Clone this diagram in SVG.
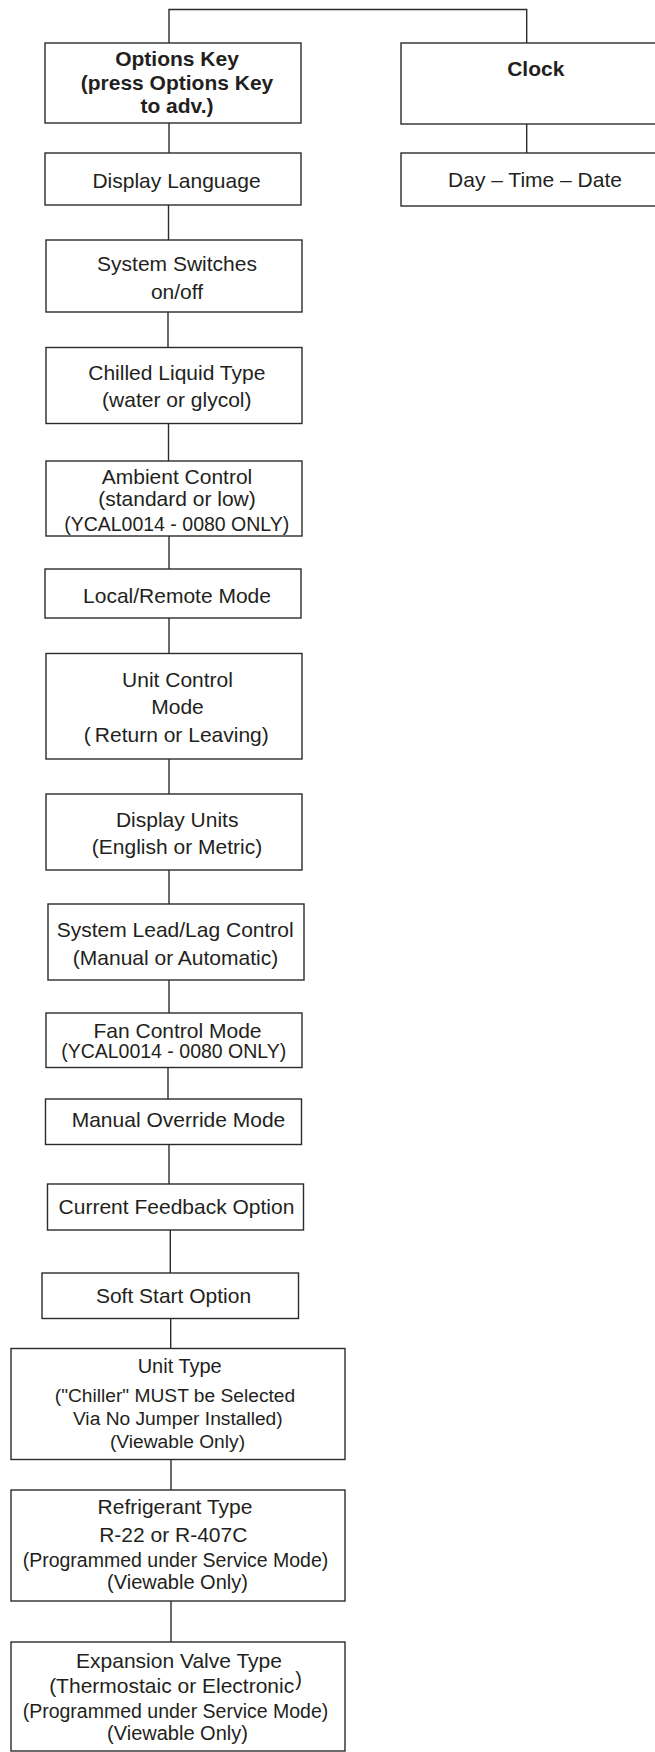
<svg xmlns="http://www.w3.org/2000/svg" width="655" height="1752" viewBox="0 0 655 1752">
<style>
  .bg { fill: #ffffff; }
  .box { fill: #ffffff; stroke: #2b2b2b; stroke-width: 1.4; }
  .conn { fill: none; stroke: #2b2b2b; stroke-width: 1.4; }
  text { font-family: "Liberation Sans", Arial, Helvetica, sans-serif; font-size: 21px; fill: #231f20; text-anchor: middle; }
  .b { font-weight: bold; }
  .s { font-size: 19.5px; }
  .u { font-size: 19.2px; }
  .m { font-size: 19.5px; }
  .v { font-size: 20px; }
</style>
<rect class="bg" x="0" y="0" width="655" height="1752"/>
<g id="connectors">
  <polyline class="conn" points="169,43 169,9.5 526.7,9.5 526.7,43"/>
  <line class="conn" x1="169" y1="123" x2="169" y2="153"/>
  <line class="conn" x1="526.7" y1="124" x2="526.7" y2="153"/>
  <line class="conn" x1="168.5" y1="205" x2="168.5" y2="240"/>
  <line class="conn" x1="168" y1="312" x2="168" y2="347.5"/>
  <line class="conn" x1="168.5" y1="423.5" x2="168.5" y2="461"/>
  <line class="conn" x1="169" y1="536" x2="169" y2="569"/>
  <line class="conn" x1="169" y1="618" x2="169" y2="653.5"/>
  <line class="conn" x1="169" y1="759" x2="169" y2="794"/>
  <line class="conn" x1="169" y1="870" x2="169" y2="904"/>
  <line class="conn" x1="169" y1="980" x2="169" y2="1013"/>
  <line class="conn" x1="168" y1="1067.5" x2="168" y2="1099"/>
  <line class="conn" x1="169" y1="1144.5" x2="169" y2="1184"/>
  <line class="conn" x1="170.3" y1="1230" x2="170.3" y2="1273"/>
  <line class="conn" x1="170.7" y1="1318.5" x2="170.7" y2="1348.5"/>
  <line class="conn" x1="171" y1="1459.5" x2="171" y2="1490"/>
  <line class="conn" x1="171" y1="1601" x2="171" y2="1642"/>
</g>
<g id="options-key">
  <rect class="box" x="45" y="43" width="256" height="80"/>
  <text class="b" x="177" y="65.5">Options Key</text>
  <text class="b" x="177" y="89.5">(press Options Key</text>
  <text class="b" x="177" y="112.5">to adv.)</text>
</g>
<g id="clock">
  <rect class="box" x="401" y="43" width="270" height="81"/>
  <text class="b" x="535.8" y="76">Clock</text>
</g>
<g id="display-language">
  <rect class="box" x="45" y="153" width="256" height="52"/>
  <text x="176.5" y="188.3">Display Language</text>
</g>
<g id="day-time-date">
  <rect class="box" x="401" y="153" width="270" height="53"/>
  <text x="535" y="187.3">Day – Time – Date</text>
</g>
<g id="system-switches">
  <rect class="box" x="46" y="240" width="256" height="72"/>
  <text x="177" y="271">System Switches</text>
  <text x="177" y="299">on/off</text>
</g>
<g id="chilled-liquid-type">
  <rect class="box" x="46" y="347.5" width="256" height="76"/>
  <text x="176.8" y="380">Chilled Liquid Type</text>
  <text x="176.8" y="406.7">(water or glycol)</text>
</g>
<g id="ambient-control">
  <rect class="box" x="46" y="461" width="256" height="75"/>
  <text x="177" y="484">Ambient Control</text>
  <text x="177" y="506">(standard or low)</text>
  <text class="s" x="176.7" y="531">(YCAL0014 - 0080 ONLY)</text>
</g>
<g id="local-remote-mode">
  <rect class="box" x="45" y="569" width="256" height="49"/>
  <text x="177" y="603.3">Local/Remote Mode</text>
</g>
<g id="unit-control-mode">
  <rect class="box" x="46" y="653.5" width="256" height="105.5"/>
  <text x="177.5" y="686.7">Unit Control</text>
  <text x="177.5" y="714.3">Mode</text>
  <text x="176.3" y="741.7">(<tspan dx="4">Return or Leaving)</tspan></text>
</g>
<g id="display-units">
  <rect class="box" x="46" y="794" width="256" height="76"/>
  <text x="177.2" y="827.3">Display Units</text>
  <text x="177" y="854.3">(English or Metric)</text>
</g>
<g id="system-lead-lag-control">
  <rect class="box" x="48" y="904" width="256" height="76"/>
  <text x="175.2" y="937.3">System Lead/Lag Control</text>
  <text x="175.5" y="965">(Manual or Automatic)</text>
</g>
<g id="fan-control-mode">
  <rect class="box" x="46" y="1013" width="256" height="54.5"/>
  <text x="177.5" y="1037.7">Fan Control Mode</text>
  <text class="s" x="173.7" y="1058.3">(YCAL0014 - 0080 ONLY)</text>
</g>
<g id="manual-override-mode">
  <rect class="box" x="45.5" y="1099" width="256" height="45.5"/>
  <text x="178.5" y="1126.7">Manual Override Mode</text>
</g>
<g id="current-feedback-option">
  <rect class="box" x="47.5" y="1184" width="256" height="46"/>
  <text x="176.5" y="1214.3">Current Feedback Option</text>
</g>
<g id="soft-start-option">
  <rect class="box" x="42" y="1273" width="256.5" height="45.5"/>
  <text x="173.5" y="1303.3">Soft Start Option</text>
</g>
<g id="unit-type">
  <rect class="box" x="11" y="1348.5" width="334" height="111"/>
  <text class="v" x="179.7" y="1372.7">Unit Type</text>
  <text class="u" x="175" y="1401.7">("Chiller" MUST be Selected</text>
  <text class="u" x="177.8" y="1424.5">Via No Jumper Installed)</text>
  <text class="u" x="177.5" y="1448">(Viewable Only)</text>
</g>
<g id="refrigerant-type">
  <rect class="box" x="11" y="1490" width="334" height="111"/>
  <text x="175" y="1514.3">Refrigerant Type</text>
  <text x="173.3" y="1541.7">R-22 or R-407C</text>
  <text class="m" x="175.5" y="1567">(Programmed under Service Mode)</text>
  <text class="v" x="177.5" y="1589">(Viewable Only)</text>
</g>
<g id="expansion-valve-type">
  <rect class="box" x="11" y="1642" width="334" height="109"/>
  <text x="179" y="1667.5">Expansion Valve Type</text>
  <text x="175.5" y="1693.3">(Thermostaic or Electronic<tspan font-size="20" dx="1" dy="-7">)</tspan></text>
  <text class="m" x="175.5" y="1718.3">(Programmed under Service Mode)</text>
  <text class="v" x="177.5" y="1740">(Viewable Only)</text>
</g>
</svg>
